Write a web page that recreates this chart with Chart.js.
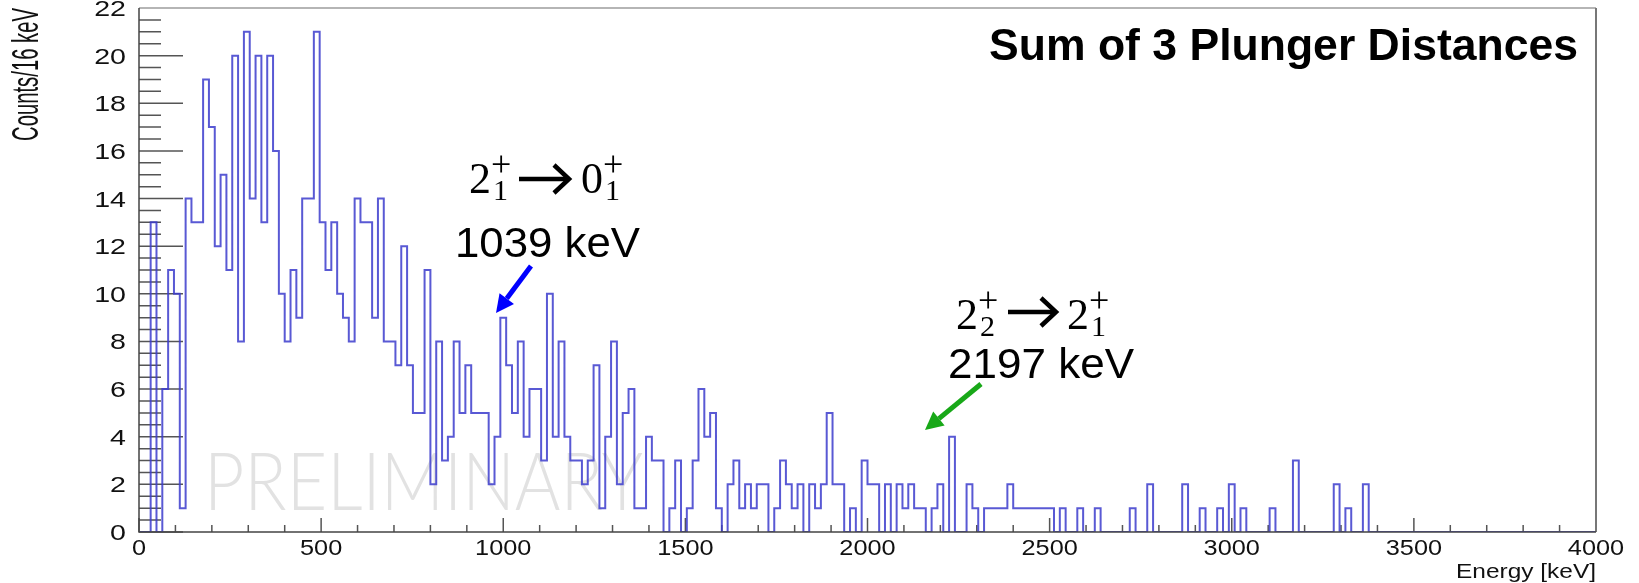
<!DOCTYPE html>
<html>
<head>
<meta charset="utf-8">
<script src="https://cdn.jsdelivr.net/npm/chart.js@4.4.1/dist/chart.umd.min.js"></script>
<style>
  html, body { margin: 0; padding: 0; background: #fff; }
  canvas { display: block; }
</style>
</head>
<body>
<canvas id="spectrum" width="1639" height="583"></canvas>
<script>
// Counts per 16 keV bin, 0 - 4000 keV (250 bins)
const binWidth = 16;
const counts = [
  0, 0, 13, 0, 6, 11, 10, 1, 14, 13, 13, 19, 17, 12, 15, 11,
  20, 8, 21, 14, 20, 13, 20, 16, 10, 8, 11, 9, 14, 14, 21, 13,
  11, 13, 10, 9, 8, 14, 13, 13, 9, 14, 8, 8, 7, 12, 7, 5,
  5, 11, 2, 8, 3, 4, 8, 5, 7, 5, 5, 5, 2, 4, 9, 7,
  5, 8, 4, 6, 6, 3, 10, 4, 8, 4, 3, 3, 2, 3, 7, 1,
  4, 8, 2, 5, 6, 1, 1, 4, 3, 3, 0, 1, 3, 0, 1, 3,
  6, 4, 5, 1, 0, 2, 3, 1, 2, 1, 2, 2, 0, 1, 3, 2,
  1, 2, 0, 2, 1, 2, 5, 2, 2, 0, 1, 0, 3, 2, 2, 0,
  2, 0, 2, 1, 2, 1, 1, 0, 1, 2, 0, 4, 0, 0, 2, 1,
  0, 1, 1, 1, 1, 2, 1, 1, 1, 1, 1, 1, 1, 0, 1, 0,
  0, 1, 0, 0, 1, 0, 0, 0, 0, 0, 1, 0, 0, 2, 0, 0,
  0, 0, 0, 2, 0, 0, 1, 0, 0, 1, 0, 2, 0, 1, 0, 0,
  0, 0, 1, 0, 0, 0, 3, 0, 0, 0, 0, 0, 0, 2, 0, 1,
  0, 0, 2, 0, 0, 0, 0, 0, 0, 0, 0, 0, 0, 0, 0, 0,
  0, 0, 0, 0, 0, 0, 0, 0, 0, 0, 0, 0, 0, 0, 0, 0,
  0, 0, 0, 0, 0, 0, 0, 0, 0, 0
];

const xTicks = [0, 500, 1000, 1500, 2000, 2500, 3000, 3500, 4000];
const yTicks = [0, 2, 4, 6, 8, 10, 12, 14, 16, 18, 20, 22];
const xMinorStep = 100;
const yMinorStep = 0.5;

const points = counts.map((c, i) => ({ x: i * binWidth, y: c }));
points.push({ x: counts.length * binWidth, y: 0 });

function stretchText(ctx, text, x, y, font, sx, align) {
    ctx.save();
    ctx.font = font;
    ctx.textAlign = align || 'left';
    ctx.textBaseline = 'alphabetic';
    ctx.translate(x, y);
    ctx.scale(sx, 1);
    ctx.fillText(text, 0, 0);
    ctx.restore();
}

function fitText(ctx, text, x, y, font, width, align) {
    ctx.font = font;
    const w = ctx.measureText(text).width;
    stretchText(ctx, text, x, y, font, width / w, align);
}

// level label like 2_1^+
function level(ctx, base, sub, x, baseline) {
    ctx.save();
    ctx.fillStyle = '#000';
    ctx.font = '44px "Liberation Serif"';
    ctx.textAlign = 'left';
    ctx.fillText(base, x, baseline);
    const bw = ctx.measureText(base).width;
    ctx.font = '36px "Liberation Serif"';
    ctx.fillText('+', x + bw, baseline - 17);
    ctx.font = '30px "Liberation Serif"';
    ctx.fillText(sub, x + bw + 2, baseline + 7);
    ctx.restore();
}

function transitionArrow(ctx, x1, x2, y) {
    ctx.save();
    ctx.strokeStyle = '#000';
    ctx.lineWidth = 4.5;
    ctx.lineJoin = 'miter';
    ctx.beginPath();
    ctx.moveTo(x1, y);
    ctx.lineTo(x2 - 3, y);
    ctx.stroke();
    ctx.beginPath();
    ctx.moveTo(x2 - 15, y - 14);
    ctx.lineTo(x2, y);
    ctx.lineTo(x2 - 15, y + 14);
    ctx.stroke();
    ctx.restore();
}

function pointer(ctx, x1, y1, x2, y2, color) {
    const ang = Math.atan2(y2 - y1, x2 - x1);
    const head = 18, half = 9;
    const bx = x2 - head * Math.cos(ang), by = y2 - head * Math.sin(ang);
    ctx.save();
    ctx.strokeStyle = color;
    ctx.fillStyle = color;
    ctx.lineWidth = 5;
    ctx.beginPath();
    ctx.moveTo(x1, y1);
    ctx.lineTo(bx, by);
    ctx.stroke();
    ctx.beginPath();
    ctx.moveTo(x2, y2);
    ctx.lineTo(bx + half * Math.sin(ang), by - half * Math.cos(ang));
    ctx.lineTo(bx - half * Math.sin(ang), by + half * Math.cos(ang));
    ctx.closePath();
    ctx.fill();
    ctx.restore();
}

const rootStyle = {
    id: 'rootStyle',
    beforeDatasetsDraw(chart) {
        const { ctx, chartArea: a, scales: { x, y } } = chart;

        // watermark
        ctx.save();
        ctx.fillStyle = '#e2e2e2';
        fitText(ctx, 'PRELIMINARY', 204, 510, '300 80px Lato', 439, 'left');
        ctx.restore();

        // inward ticks, ROOT style
        ctx.save();
        ctx.strokeStyle = '#555';
        ctx.lineWidth = 1.5;
        ctx.beginPath();
        for (let v = 0; v <= 4000; v += xMinorStep) {
            const px = x.getPixelForValue(v);
            const len = xTicks.includes(v) ? 14 : 7;
            ctx.moveTo(px, a.bottom);
            ctx.lineTo(px, a.bottom - len);
        }
        for (let v = 0; v <= 22; v += yMinorStep) {
            const py = y.getPixelForValue(v);
            const len = yTicks.includes(v) ? 44 : 22;
            ctx.moveTo(a.left, py);
            ctx.lineTo(a.left + len, py);
        }
        ctx.stroke();
        ctx.restore();
    },
    afterDatasetsDraw(chart) {
        const { ctx, chartArea: a, scales: { x, y } } = chart;

        // frame
        ctx.save();
        ctx.lineWidth = 2;
        ctx.strokeStyle = '#b5b5b5';
        ctx.beginPath();
        ctx.moveTo(a.left, a.top);
        ctx.lineTo(a.right, a.top);
        ctx.stroke();
        ctx.strokeStyle = '#777';
        ctx.beginPath();
        ctx.moveTo(a.right, a.top);
        ctx.lineTo(a.right, a.bottom);
        ctx.stroke();
        ctx.strokeStyle = '#444';
        ctx.lineWidth = 1.5;
        ctx.beginPath();
        ctx.moveTo(a.left, a.top);
        ctx.lineTo(a.left, a.bottom);
        ctx.lineTo(a.right, a.bottom);
        ctx.stroke();
        ctx.restore();

        // tick labels
        ctx.save();
        ctx.fillStyle = '#111';
        yTicks.forEach(v => {
            stretchText(ctx, String(v), 126, y.getPixelForValue(v) + 8, '22px "Liberation Sans"', 1.3, 'right');
        });
        xTicks.forEach(v => {
            stretchText(ctx, String(v), x.getPixelForValue(v), 555, '22px "Liberation Sans"', 1.15, 'center');
        });

        // axis titles
        fitText(ctx, 'Energy [keV]', a.right, 578, '21px "Liberation Sans"', 140, 'right');
        ctx.save();
        ctx.translate(28, a.top);
        ctx.rotate(-Math.PI / 2);
        ctx.scale(1, 1.85);
        ctx.font = '20px "Liberation Sans"';
        ctx.textAlign = 'right';
        ctx.textBaseline = 'middle';
        const tw = ctx.measureText('Counts/16 keV').width;
        ctx.scale(133 / tw, 1);
        ctx.fillText('Counts/16 keV', 0, 0);
        ctx.restore();
        ctx.restore();

        // title
        ctx.save();
        ctx.fillStyle = '#000';
        fitText(ctx, 'Sum of 3 Plunger Distances', 989, 60, 'bold 45px "Liberation Sans"', 589, 'left');

        // annotations
        level(ctx, '2', '1', 469, 193);
        transitionArrow(ctx, 519, 569, 179);
        level(ctx, '0', '1', 581, 193);
        fitText(ctx, '1039 keV', 455, 257, '43px "Liberation Sans"', 185, 'left');
        pointer(ctx, 531, 266, 496, 313, '#0000ff');

        level(ctx, '2', '2', 956, 329);
        transitionArrow(ctx, 1008, 1056, 312);
        level(ctx, '2', '1', 1067, 329);
        fitText(ctx, '2197 keV', 948, 378, '43px "Liberation Sans"', 186, 'left');
        pointer(ctx, 981, 384, 925, 430, '#18a818');
        ctx.restore();
    }
};

const chart = new Chart(document.getElementById('spectrum').getContext('2d'), {
    type: 'line',
    data: {
        datasets: [{
            label: 'Sum of 3 Plunger Distances',
            data: points,
            stepped: true,
            borderColor: 'rgba(60, 60, 205, 0.85)',
            borderWidth: 2,
            pointRadius: 0,
            fill: false,
            tension: 0
        }]
    },
    options: {
        responsive: false,
        animation: false,
        devicePixelRatio: 1,
        layout: {
            padding: { left: 139, right: 43, top: 8, bottom: 51 }
        },
        plugins: {
            legend: { display: false },
            tooltip: { enabled: false }
        },
        scales: {
            x: { type: 'linear', min: 0, max: 4000, display: false },
            y: { type: 'linear', min: 0, max: 22, display: false }
        }
    },
    plugins: [rootStyle]
});
</script>
</body>
</html>
